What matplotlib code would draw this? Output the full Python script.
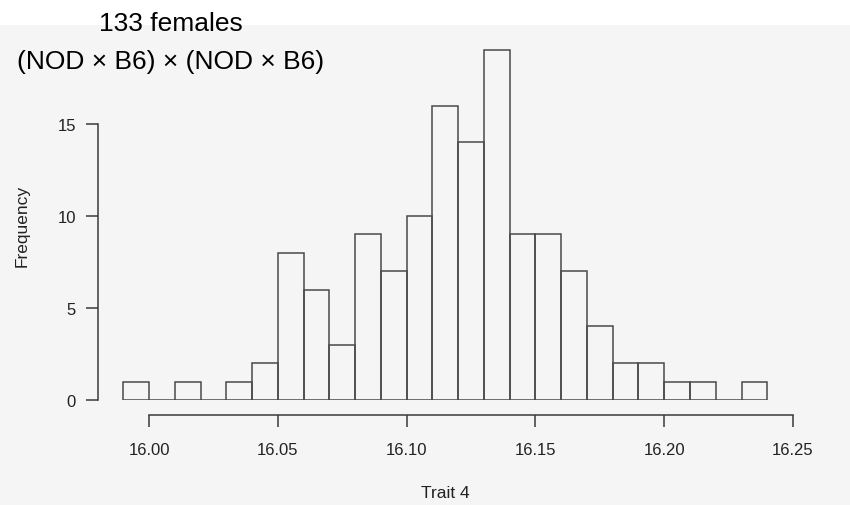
import matplotlib.pyplot as plt
import matplotlib.patches as mpatches
import numpy as np

plt.rcParams["font.family"] = ["Liberation Sans", "DejaVu Sans"]

# histogram of trait 4, bin width 0.01
bin_edges = np.round(np.arange(15.99, 16.2401, 0.01), 2)
counts = [1, 0, 1, 0, 1, 2, 8, 6, 3, 9, 7, 10, 16, 14, 19,
          9, 9, 7, 4, 2, 2, 1, 1, 0, 1]
x_ticks = [16.00, 16.05, 16.10, 16.15, 16.20, 16.25]
x_tick_labels = ["16.00", "16.05", "16.10", "16.15", "16.20", "16.25"]
y_ticks = [0, 5, 10, 15]

bg = "#f5f5f5"
W, H = 850, 506

fig = plt.figure(figsize=(W / 100, H / 100), dpi=100)
fig.patch.set_facecolor(bg)
# white strip at the top, behind the first title line
fig.patches.append(mpatches.Rectangle((0, 1 - 26 / H), 1, 26 / H,
                                      transform=fig.transFigure,
                                      facecolor="white", edgecolor="none",
                                      zorder=-1))

left, right = 97.5, 818.8
bottom, top = 401, 33
ax = fig.add_axes([left / W, 1 - bottom / H, (right - left) / W,
                   (bottom - top) / H])
ax.set_facecolor(bg)

ax.bar(bin_edges[:-1], counts, width=0.01, align="edge",
       facecolor="none", edgecolor="#4a4a4a", linewidth=1.1)

ax.set_xlim(15.98, 16.26)
ax.set_ylim(0, 20)

for s in ["top", "right"]:
    ax.spines[s].set_visible(False)
ax.spines["bottom"].set_position(("outward", 10.5))
ax.spines["bottom"].set_bounds(16.00, 16.25)
ax.spines["left"].set_bounds(0, 15)
for s in ["bottom", "left"]:
    ax.spines[s].set_color("#3a3a3a")
    ax.spines[s].set_linewidth(1.1)

ax.set_xticks(x_ticks)
ax.set_xticklabels(x_tick_labels)
ax.set_yticks(y_ticks)
ax.tick_params(axis="both", colors="#3a3a3a", labelcolor="#222222",
               length=8.5, width=1.1, labelsize=12)
ax.tick_params(axis="x", pad=11.5)
ax.tick_params(axis="y", pad=7)

fig.text(445 / W, 1 - 494 / H, "Trait 4", ha="center", va="center",
         fontsize=12.5, color="#222222")
fig.text(22 / W, 1 - 226 / H, "Frequency", ha="center", va="center",
         rotation=90, fontsize=12.5, color="#222222")

fig.text(171 / W, 1 - 24 / H, "133 females", ha="center", va="center",
         fontsize=19, color="black")
fig.text(171 / W, 1 - 62 / H, "(NOD \u00d7 B6) \u00d7 (NOD \u00d7 B6)",
         ha="center", va="center", fontsize=19, color="black")

fig.savefig("out.png", dpi=100, facecolor=fig.get_facecolor())
